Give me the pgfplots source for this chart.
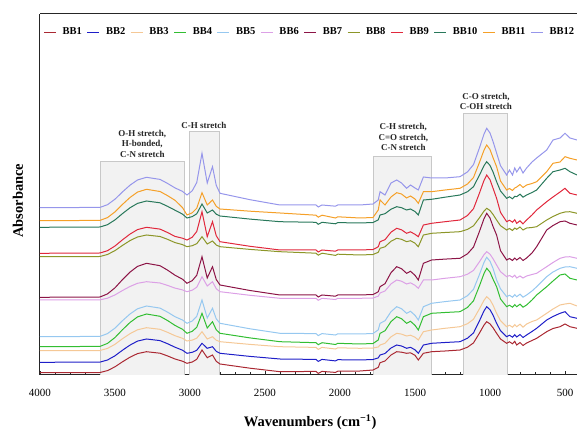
\documentclass[border=0pt]{standalone}
\usepackage{fontspec}
\setmainfont{Liberation Serif}
\usepackage{pgfplots}
\usepackage{pgfplotstable}
\pgfplotsset{compat=1.18}
\definecolor{c1}{RGB}{170,40,50}
\definecolor{c2}{RGB}{30,30,200}
\definecolor{c3}{RGB}{245,200,150}
\definecolor{c4}{RGB}{50,190,50}
\definecolor{c5}{RGB}{150,200,240}
\definecolor{c6}{RGB}{220,160,230}
\definecolor{c7}{RGB}{140,20,70}
\definecolor{c8}{RGB}{140,150,40}
\definecolor{c9}{RGB}{225,40,60}
\definecolor{c10}{RGB}{40,120,90}
\definecolor{c11}{RGB}{245,160,40}
\definecolor{c12}{RGB}{150,150,235}
\definecolor{boxfill}{RGB}{242,242,242}
\definecolor{boxline}{RGB}{200,200,200}

\pgfplotstableread{
wn b1 b2 b3 b4 b5 b6 b7 b8 b9 b10 b11 b12
4000 2.3 12.7 24.3 28.3 38.3 75 77.7 118.3 121.7 147.7 154.3 167.3
3600 2.5 12.9 24.5 28.6 38.6 75.2 78.0 118.5 122.0 148.0 154.6 167.6
3550 4.4 15.0 26.6 31.6 41.4 76.8 81.1 120.5 124.3 150.3 157.4 170.3
3500 8.2 19.2 30.7 37.5 46.9 80.1 87.2 124.4 129.0 155.1 163.1 175.8
3450 13.2 24.8 36.3 45.3 54.3 84.5 95.4 129.6 135.2 161.4 170.6 183.1
3400 17.8 29.9 41.3 52.5 61.0 88.5 102.9 134.4 140.9 167.2 177.5 189.8
3350 21.4 33.9 45.2 58.1 66.2 91.7 108.6 138.0 145.4 171.6 182.9 195.0
3290 23.3 36.0 47.3 61.0 69.0 93.3 111.7 140.0 147.7 174.0 185.7 197.7
3200 21.8 34.4 45.7 58.7 66.9 92.0 109.3 138.5 145.9 172.2 183.5 195.6
3150 19.1 31.3 42.7 54.5 62.9 89.6 104.9 135.7 142.5 168.7 179.4 191.6
3100 16.0 27.8 39.3 49.6 58.3 86.9 99.8 132.4 138.6 164.8 174.7 187.1
3050 13.8 24.8 36.7 45.7 55.0 85.1 95.8 130.4 136.8 160.9 167.4 183.6
3020 11.7 21.7 34.0 41.7 51.7 83.3 91.7 128.3 135.0 157.0 160.0 180.0
2985 13.0 22.7 34.9 43.7 54.0 84.8 94.4 129.3 137.8 158.4 162.2 184.2
2955 15.7 24.7 36.8 47.7 58.7 87.8 99.7 131.3 143.5 161.2 166.7 192.5
2920 25.0 31.7 43.3 61.7 75.0 98.3 118.3 138.3 163.3 171.0 182.3 221.7
2885 17.3 26.7 36.0 47.0 57.0 89.0 97.0 131.0 138.3 162.0 170.0 192.0
2850 20.0 28.3 38.3 53.3 66.7 93.3 108.3 134.0 153.3 165.0 175.0 208.3
2825 13.7 23.7 34.8 45.2 56.2 86.3 95.5 130.0 139.3 160.8 168.7 189.7
2800 11.0 21.7 33.3 41.7 51.7 83.3 90.0 128.3 133.3 159.0 166.0 181.7
2600 6.8 18.6 30.6 37.1 46.2 79.7 84.5 125.6 128.7 155.9 163.8 175.3
2400 3.3 16.0 28.3 33.3 41.7 76.7 80.0 123.3 125.0 153.3 162.0 170.0
2160 3.6 15.6 27.6 32.3 41.4 76.7 80.0 121.8 125.0 152.7 159.8 170.0
2145 1.6 13.6 25.6 30.3 39.4 74.7 78.0 119.8 123.0 150.7 157.8 168.0
2120 3.6 15.6 27.6 32.3 41.4 76.7 80.0 121.8 125.0 152.7 159.8 170.0
2030 2.6 14.1 26.0 30.5 40.0 75.5 78.8 119.6 123.8 151.2 157.0 168.8
2015 3.8 15.3 27.2 31.7 41.2 76.7 80.0 120.8 125.0 152.4 158.2 170.0
1867 4.0 15.0 26.7 31.0 41.0 76.7 80.0 120.0 125.0 152.0 157.0 170.0
1780 5.0 15.5 27.0 31.5 41.5 77.0 80.5 120.5 125.5 152.5 157.5 171.0
1745 7.6 17.1 28.0 35.0 45.1 78.8 83.2 122.7 128.2 155.1 165.0 175.0
1733 12.3 20.0 30.0 41.7 51.7 82.0 88.3 126.7 133.3 160.0 175.0 183.3
1700 14.0 21.5 31.7 44.2 54.2 84.0 91.3 128.2 135.3 161.3 170.0 180.0
1660 20.0 27.0 38.2 53.4 63.3 91.1 102.3 133.7 142.8 165.8 178.0 192.0
1622 23.3 30.0 41.7 58.3 68.3 95.0 108.3 136.7 146.7 168.3 182.3 195.0
1590 22.8 29.0 40.9 56.3 66.3 93.8 106.3 135.7 145.2 167.3 181.0 192.0
1556 21.7 26.7 39.0 51.7 61.7 91.0 101.7 133.3 141.7 165.0 177.0 186.7
1530 22.2 27.7 39.8 53.7 63.7 92.2 103.7 134.3 143.2 166.0 179.0 190.0
1500 19.7 25.2 37.8 49.7 59.7 89.7 99.7 131.8 140.7 163.5 176.0 187.0
1478 15.0 21.7 35.0 45.0 55.0 86.7 95.0 128.3 138.3 160.0 171.7 185.0
1444 21.7 30.0 43.3 58.3 68.3 95.0 111.7 140.0 150.0 175.0 183.3 198.0
1389 23.3 31.7 45.0 61.7 71.7 95.0 115.0 141.7 151.7 175.7 183.3 197.0
1300 24.0 32.5 46.7 62.5 73.4 96.7 115.9 142.5 153.3 177.8 185.0 197.0
1200 25.0 33.3 48.3 63.3 75.0 98.3 116.7 143.3 155.0 180.0 186.7 198.3
1150 27.8 36.8 51.3 67.6 79.3 100.8 121.2 145.6 159.5 183.3 191.0 203.1
1110 32.1 42.1 55.8 74.2 85.7 104.6 127.9 149.2 166.3 188.3 197.5 210.4
1070 42.0 54.3 66.3 89.3 100.6 113.3 143.7 157.3 182.0 200.0 212.7 227.3
1040 49.9 64.1 74.7 101.5 112.6 120.3 156.3 163.9 194.6 209.3 224.8 240.9
1022 53.3 68.3 78.3 106.7 117.7 123.3 161.7 166.7 200.0 213.3 230.0 246.7
1000 51.1 65.3 75.3 102.9 113.8 120.8 157.0 164.5 195.3 209.6 225.5 242.0
980 47.3 59.9 69.9 95.9 106.7 116.3 148.6 160.6 186.9 203.1 217.4 233.6
956 41.7 51.7 61.7 88.3 95.0 110.0 140.0 155.0 176.7 193.3 208.3 222.0
930 36.0 44.3 54.3 76.0 86.2 103.3 124.3 149.3 162.6 184.0 194.0 209.3
889 31.7 38.3 48.3 68.3 78.3 98.3 115.0 145.0 153.3 176.7 185.0 200.0
870 33.2 39.8 49.8 69.8 79.8 99.5 116.5 146.5 154.8 178.2 186.5 205.0
850 31.2 37.8 47.8 67.8 77.8 97.8 114.5 144.5 152.8 176.2 184.5 200.0
835 33.7 40.3 50.3 70.3 80.3 99.8 117.0 147.0 155.3 178.7 187.0 207.0
822 30.0 38.0 48.3 68.3 78.3 97.0 115.0 145.7 151.7 178.3 188.0 203.0
800 32.5 40.5 50.8 70.8 80.8 99.0 117.5 148.0 154.2 180.8 190.5 208.0
780 29.5 37.5 47.8 67.8 77.8 97.0 114.5 145.0 151.2 177.8 187.5 202.0
756 32.0 40.0 51.0 70.0 80.0 99.0 117.0 147.0 155.0 180.0 190.0 207.0
720 34.5 43.5 53.5 75.0 84.0 100.5 122.0 147.5 160.0 182.5 191.5 213.0
689 36.7 46.7 55.0 80.0 88.3 101.7 128.3 148.3 165.0 185.0 193.3 217.0
622 43.3 55.0 61.7 88.3 98.3 108.3 145.0 155.0 173.3 196.7 203.3 225.0
580 46.5 58.5 66.0 94.0 103.0 112.5 149.5 158.5 178.0 203.3 211.7 235.0
533 48.3 61.7 70.0 100.0 106.7 116.7 153.3 161.7 183.0 205.0 213.0 237.0
500 51.0 63.3 71.0 101.0 108.0 118.0 154.0 163.0 186.7 206.7 218.3 241.7
467 48.3 58.3 71.7 96.7 108.3 118.3 151.7 163.3 181.7 203.3 216.7 237.0
420 46.7 56.7 69.0 95.0 106.7 116.7 150.0 161.7 180.0 200.0 215.0 235.0
}\ftir

\begin{document}
\begin{tikzpicture}
\useasboundingbox (-40pt,-55pt) rectangle (537pt,375pt);
\begin{axis}[
  name=ax, at={(0pt,0pt)}, anchor=south west,
  scale only axis, width=537pt, height=361pt,
  x dir=reverse, xmin=420, xmax=4000, ymin=0, ymax=361,
  axis x line*=bottom, axis y line*=left,
  axis line style={-, line width=1pt, black!85},
  xtick={500,1000,...,4000}, minor x tick num=4, ytick=\empty,
  tick align=inside, major tick length=4pt, minor tick length=2.5pt,
  tick style={black!85, line width=0.8pt},
  /pgf/number format/1000 sep={}, /pgf/number format/assume math mode=true,
  xticklabel style={font=\fontsize{11}{13}\selectfont, yshift=-11pt},
  xlabel={Wavenumbers (cm\textsuperscript{−1})},
  ylabel={Absorbance},
  every axis x label/.style={at={(axis description cs:0.503,-0.130)}, anchor=center, font=\bfseries\fontsize{14.5}{17}\selectfont},
  every axis y label/.style={at={(axis description cs:-0.041,0.483)}, rotate=90, anchor=center, font=\bfseries\fontsize{14.5}{17}\selectfont},
  legend columns=12,
  legend style={at={(0.006,0.962)}, anchor=north west, draw=none, fill=none,
    font=\bfseries\fontsize{10.5}{12}\selectfont, inner sep=0pt,
    nodes={inner sep=0pt},
    /tikz/every odd column/.append style={column sep=6pt},
    /tikz/every even column/.append style={column sep=4.8pt}},
  legend cell align=left,
  legend image code/.code={\draw[mark repeat=2,mark phase=2,#1] plot coordinates {(0pt,0pt) (6pt,0pt) (12pt,0pt)};},
  legend image post style={line width=1.3pt},
  every axis plot/.append style={line width=1pt},
]
\filldraw[fill=boxfill, draw=boxline, line width=0.8pt] (axis cs:3600,0) rectangle (axis cs:3040,213.3);
\filldraw[fill=boxfill, draw=boxline, line width=0.8pt] (axis cs:3005,0) rectangle (axis cs:2805,244);
\filldraw[fill=boxfill, draw=boxline, line width=0.8pt] (axis cs:1778,0) rectangle (axis cs:1389,218.3);
\filldraw[fill=boxfill, draw=boxline, line width=0.8pt] (axis cs:1178,0) rectangle (axis cs:885,261.7);

\addplot[color=c1] table[x=wn, y=b1] {\ftir}; \addlegendentry{BB1}
\addplot[color=c2] table[x=wn, y=b2] {\ftir}; \addlegendentry{BB2}
\addplot[color=c3] table[x=wn, y=b3] {\ftir}; \addlegendentry{BB3}
\addplot[color=c4] table[x=wn, y=b4] {\ftir}; \addlegendentry{BB4}
\addplot[color=c5] table[x=wn, y=b5] {\ftir}; \addlegendentry{BB5}
\addplot[color=c6] table[x=wn, y=b6] {\ftir}; \addlegendentry{BB6}
\addplot[color=c7] table[x=wn, y=b7] {\ftir}; \addlegendentry{BB7}
\addplot[color=c8] table[x=wn, y=b8] {\ftir}; \addlegendentry{BB8}
\addplot[color=c9] table[x=wn, y=b9] {\ftir}; \addlegendentry{BB9}
\addplot[color=c10] table[x=wn, y=b10] {\ftir}; \addlegendentry{BB10}
\addplot[color=c11] table[x=wn, y=b11] {\ftir}; \addlegendentry{BB11}
\addplot[color=c12] table[x=wn, y=b12] {\ftir}; \addlegendentry{BB12}

\begin{scope}[every node/.style={font=\bfseries\fontsize{9}{10.5}\selectfont, align=center, text=black!85}]
\node at (axis cs:3318,231.5) {O-H stretch,\\H-bonded,\\C-N stretch};
\node at (axis cs:2907,250) {C-H stretch};
\node at (axis cs:1578,237.7) {C-H stretch,\\C=O stretch,\\C-N stretch};
\node at (axis cs:1027,273.8) {C-O stretch,\\C-OH stretch};
\end{scope}
\end{axis}
\draw[line width=1pt, black!85] (ax.north west) -- (ax.north east);
\end{tikzpicture}
\end{document}
